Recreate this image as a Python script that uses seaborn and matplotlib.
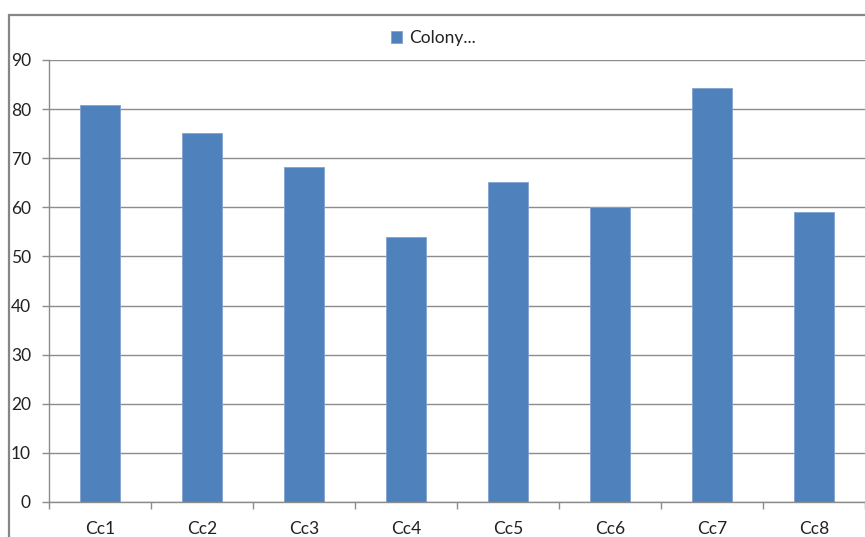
import matplotlib
matplotlib.use("Agg")
import matplotlib.pyplot as plt
import seaborn as sns
import pandas as pd
import numpy as np
from matplotlib.patches import Rectangle

categories = ["Cc1", "Cc2", "Cc3", "Cc4", "Cc5", "Cc6", "Cc7", "Cc8"]
values = [80.8, 75.1, 68.2, 53.9, 65.2, 60.1, 84.3, 59.1]
series_name = "Colony..."
yticks = [0, 10, 20, 30, 40, 50, 60, 70, 80, 90]

df = pd.DataFrame({"cat": categories, "val": values, "series": series_name})

sns.set_theme(style="white")
plt.rcParams['font.family'] = ['Lato', 'DejaVu Sans']

W, H = 865, 537
fig = plt.figure(figsize=(W / 100, H / 100), dpi=100)
ax = fig.add_axes([49 / W, 1 - 502 / H, 1 - 49 / W, (502 - 60) / H])

sns.barplot(data=df, x="cat", y="val", hue="series", color="#4F81BD",
            palette=["#4F81BD"], width=0.4, ax=ax, saturation=1,
            edgecolor="#7FA3D0", linewidth=0.6, legend=True)

FS = 12.5
ax.set_xlim(-0.5, len(categories) - 0.5)
ax.set_ylim(0, 90)
ax.set_yticks(yticks)
ax.set_yticklabels([str(t) for t in yticks], fontsize=FS, color="#222222")
ax.yaxis.grid(True, color="#8C8C8C", linewidth=1.0)
ax.set_axisbelow(True)
ax.set_xlabel("")
ax.set_ylabel("")

ax.set_xticks(range(len(categories)))
ax.set_xticklabels(categories, fontsize=FS, color="#222222")
ax.tick_params(axis="x", which="major", length=0, pad=14)
ax.set_xticks(np.arange(-0.5, len(categories), 1.0), minor=True)
ax.tick_params(axis="x", which="minor", length=5, color="#8C8C8C", width=1, direction="out", bottom=True)
ax.tick_params(axis="y", which="major", length=5, color="#8C8C8C", width=1, direction="out", left=True, pad=8)

for s in ["top", "right"]:
    ax.spines[s].set_visible(False)
for s in ["left", "bottom"]:
    ax.spines[s].set_color("#8C8C8C")
    ax.spines[s].set_linewidth(1.0)

leg = ax.legend(loc="center", bbox_to_anchor=(433 / W, 1 - 38 / H),
                bbox_transform=fig.transFigure, frameon=False,
                fontsize=FS, handlelength=0.65, handleheight=0.65,
                handletextpad=0.4)
for t in leg.get_texts():
    t.set_color("#222222")

fig.patches.append(Rectangle((9 / W, -0.1), 1.2, 1 - 15 / H + 0.1,
                             transform=fig.transFigure, fill=False,
                             edgecolor="#868686", linewidth=1.6, zorder=10))

fig.savefig("out.png", dpi=100)
